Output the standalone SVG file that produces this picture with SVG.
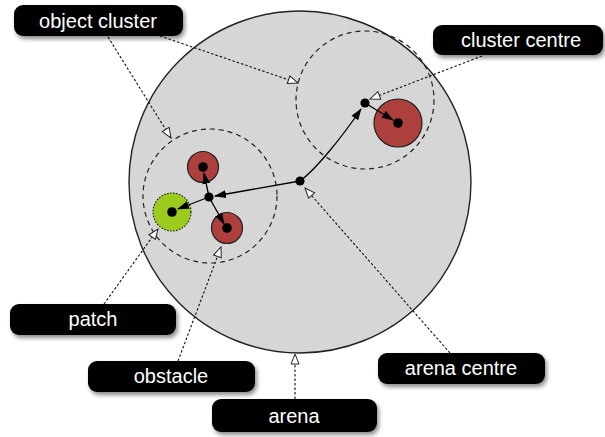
<svg xmlns="http://www.w3.org/2000/svg" width="605" height="437" viewBox="0 0 605 437">
<defs>
<filter id="sh" x="-10%" y="-30%" width="125%" height="170%">
<feDropShadow dx="2" dy="3" stdDeviation="2" flood-color="#000" flood-opacity="0.45"/>
</filter>
<marker id="open" viewBox="0 0 12 10" refX="11" refY="5" markerWidth="12" markerHeight="10" markerUnits="userSpaceOnUse" orient="auto">
<path d="M1,1 L11,5 L1,9 Z" fill="#fff" stroke="#222" stroke-width="1"/>
</marker>
<marker id="solid" viewBox="0 0 12 10" refX="11" refY="5" markerWidth="12" markerHeight="10" markerUnits="userSpaceOnUse" orient="auto">
<path d="M0,1 L12,5 L0,9 Z" fill="#000"/>
</marker>
</defs>
<style>
.lbl rect{fill:#000;filter:url(#sh)}
.lbl text{fill:#fff;font-family:"Liberation Sans",Arial,sans-serif;font-size:20px;text-anchor:middle}
.dash{fill:none;stroke:#111;stroke-width:1.1;stroke-dasharray:2.5,2}
.cl{fill:none;stroke:#222;stroke-width:1.2;stroke-dasharray:5,4}
.arr{fill:none;stroke:#000;stroke-width:1.3}
.red{fill:#ad3f3c;stroke:#222;stroke-width:1.2}
.dot{fill:#000}
</style>

<g id="arena"><circle cx="300" cy="182" r="171" fill="#d6d6d6" stroke="#222" stroke-width="1.4"/></g>
<g id="cluster-left"><circle cx="210" cy="196" r="67" class="cl"/></g>
<g id="cluster-right"><circle cx="365" cy="100" r="69" class="cl"/></g>

<g id="obstacle-top"><circle cx="203" cy="167" r="15.5" class="red"/></g>
<g id="obstacle-bottom"><circle cx="227" cy="228" r="15.5" class="red"/></g>
<g id="obstacle-big"><circle cx="398" cy="123" r="24" class="red"/></g>
<g id="patch"><circle cx="172" cy="212" r="19" fill="#9bcb1c" stroke="#222" stroke-width="1.2" stroke-dasharray="1.5,1.5"/></g>

<g id="connectors">
<path class="arr" d="M300,181 C315,170 340,140 361,109" marker-end="url(#solid)"/>
<path class="arr" d="M300,181 L215,196" marker-end="url(#solid)"/>
<path class="arr" d="M209,197 L204,173" marker-end="url(#solid)"/>
<path class="arr" d="M209,197 L178,209" marker-end="url(#solid)"/>
<path class="arr" d="M209,197 L224,224" marker-end="url(#solid)"/>
<path class="arr" d="M365,103 L393,120" marker-end="url(#solid)"/>

<path class="dash" d="M108,37 L171,138" marker-end="url(#open)"/>
<path class="dash" d="M160,36 L298,83" marker-end="url(#open)"/>
<path class="dash" d="M482,56 L370,99" marker-end="url(#open)"/>
<path class="dash" d="M104,304 L158,229" marker-end="url(#open)"/>
<path class="dash" d="M178,361 L221,247" marker-end="url(#open)"/>
<path class="dash" d="M295,399 L295,354" marker-end="url(#open)"/>
<path class="dash" d="M450,353 L305,188" marker-end="url(#open)"/>
</g>

<g id="dots">
<circle cx="300" cy="181" r="4.6" class="dot"/>
<circle cx="365" cy="103" r="4.6" class="dot"/>
<circle cx="209" cy="197" r="4.6" class="dot"/>
<circle cx="203" cy="167" r="4.8" class="dot"/>
<circle cx="172" cy="212" r="4.8" class="dot"/>
<circle cx="227" cy="228" r="4.8" class="dot"/>
<circle cx="398" cy="123" r="4.8" class="dot"/>
</g>

<g id="label-object-cluster" class="lbl"><rect x="14" y="5" width="169" height="31" rx="9"/><text x="98" y="28">object cluster</text></g>
<g id="label-cluster-centre" class="lbl"><rect x="433" y="25" width="170" height="30" rx="9"/><text x="521" y="47">cluster centre</text></g>
<g id="label-patch" class="lbl"><rect x="10" y="304" width="166" height="31" rx="9"/><text x="93" y="326">patch</text></g>
<g id="label-obstacle" class="lbl"><rect x="88" y="361" width="167" height="31" rx="9"/><text x="171" y="383">obstacle</text></g>
<g id="label-arena" class="lbl"><rect x="212" y="399" width="165" height="33" rx="9"/><text x="294" y="423">arena</text></g>
<g id="label-arena-centre" class="lbl"><rect x="378" y="353" width="167" height="31" rx="9"/><text x="461" y="375">arena centre</text></g>
</svg>
